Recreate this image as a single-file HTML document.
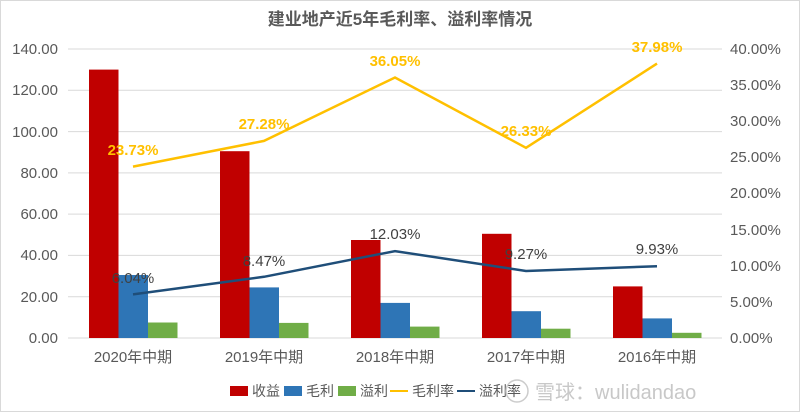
<!DOCTYPE html><html><head><meta charset="utf-8"><style>body{margin:0;background:#fff}svg{display:block;font-family:"Liberation Sans","Noto Sans CJK SC",sans-serif}</style></head><body>
<svg width="800" height="412" viewBox="0 0 800 412">
<rect x="0.5" y="0.5" width="799" height="411" fill="#fff" stroke="#d9d9d9"/>
<text x="400" y="25" text-anchor="middle" font-size="17" font-weight="bold" fill="#595959">建业地产近5年毛利率、溢利率情况</text>
<g stroke="#d9d9d9" stroke-width="1">
<line x1="68" x2="722" y1="49" y2="49"/><line x1="68" x2="722" y1="90.3" y2="90.3"/><line x1="68" x2="722" y1="131.6" y2="131.6"/><line x1="68" x2="722" y1="172.9" y2="172.9"/><line x1="68" x2="722" y1="214.1" y2="214.1"/><line x1="68" x2="722" y1="255.4" y2="255.4"/><line x1="68" x2="722" y1="296.7" y2="296.7"/><line x1="68" x2="722" y1="338" y2="338"/>
</g>
<g font-size="15" fill="#595959" text-anchor="end">
<text x="58" y="54">140.00</text><text x="58" y="95">120.00</text><text x="58" y="137">100.00</text><text x="58" y="178">80.00</text><text x="58" y="219">60.00</text><text x="58" y="260">40.00</text><text x="58" y="302">20.00</text><text x="58" y="343">0.00</text>
</g>
<g font-size="15" fill="#595959" text-anchor="start">
<text x="730" y="54">40.00%</text><text x="730" y="90">35.00%</text><text x="730" y="126">30.00%</text><text x="730" y="162">25.00%</text><text x="730" y="198">20.00%</text><text x="730" y="235">15.00%</text><text x="730" y="271">10.00%</text><text x="730" y="307">5.00%</text><text x="730" y="343">0.00%</text>
</g>
<g fill="#c00000">
<rect x="89" y="69.6" width="29.5" height="268.4"/><rect x="220" y="151.2" width="29.5" height="186.8"/><rect x="351" y="240" width="29.5" height="98"/><rect x="482" y="233.8" width="29.5" height="104.2"/><rect x="613" y="286.4" width="29.5" height="51.6"/>
</g>
<g fill="#2e75b6">
<rect x="118.5" y="275" width="29.5" height="63"/><rect x="249.5" y="287.4" width="29.5" height="50.6"/><rect x="380.5" y="302.9" width="29.5" height="35.1"/><rect x="511.5" y="311.2" width="29.5" height="26.8"/><rect x="642.5" y="318.4" width="29.5" height="19.6"/>
</g>
<g fill="#70ad47">
<rect x="148" y="322.5" width="29.5" height="15.5"/><rect x="279" y="322.9" width="29.5" height="15.1"/><rect x="410" y="326.6" width="29.5" height="11.4"/><rect x="541" y="328.7" width="29.5" height="9.3"/><rect x="672" y="332.8" width="29.5" height="5.2"/>
</g>
<polyline points="133,166.6 264,140.9 395,77.5 526,147.8 657,63.6" fill="none" stroke="#ffc000" stroke-width="2.5"/>
<polyline points="133,294.4 264,276.8 395,251.1 526,271 657,266.2" fill="none" stroke="#1f4e79" stroke-width="2.5"/>
<g font-size="15" font-weight="bold" fill="#ffc000" text-anchor="middle">
<text x="133" y="155">23.73%</text><text x="264" y="129">27.28%</text><text x="395" y="66">36.05%</text><text x="526" y="136">26.33%</text><text x="657" y="52">37.98%</text>
</g>
<g font-size="15" fill="#404040" text-anchor="middle">
<text x="133" y="283">6.04%</text><text x="264" y="266">8.47%</text><text x="395" y="239">12.03%</text><text x="526" y="259">9.27%</text><text x="657" y="254">9.93%</text>
</g>
<g font-size="15" fill="#595959" text-anchor="middle">
<text x="133" y="362">2020年中期</text><text x="264" y="362">2019年中期</text><text x="395" y="362">2018年中期</text><text x="526" y="362">2017年中期</text><text x="657" y="362">2016年中期</text>
</g>
<g font-size="14" fill="#595959">
<rect x="230" y="386" width="18" height="10" fill="#c00000"/><text x="252" y="396">收益</text>
<rect x="284" y="386" width="18" height="10" fill="#2e75b6"/><text x="306" y="396">毛利</text>
<rect x="338" y="386" width="18" height="10" fill="#70ad47"/><text x="360" y="396">溢利</text>
<line x1="390" x2="408" y1="391" y2="391" stroke="#ffc000" stroke-width="2"/><text x="412" y="396">毛利率</text>
<line x1="457" x2="475" y1="391" y2="391" stroke="#1f4e79" stroke-width="2"/><text x="479" y="396">溢利率</text>
</g>
<circle cx="517" cy="391" r="11" fill="none" stroke="#ccc" stroke-width="1.5"/>
<text x="535" y="399" font-size="20" fill="#c8c8c8">雪球：wulidandao</text>
</svg>
</body></html>
